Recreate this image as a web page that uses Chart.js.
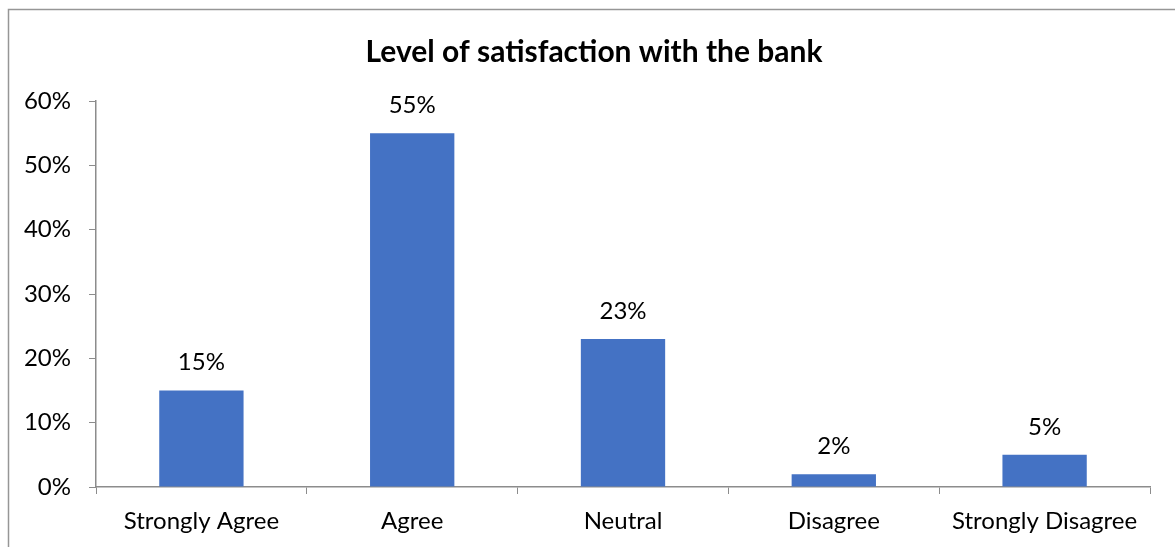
<!DOCTYPE html>
<html>
<head>
<meta charset="utf-8">
<script src="https://cdn.jsdelivr.net/npm/chart.js@4"></script>
<style>
  html, body { margin: 0; padding: 0; background: #fff; }
  #wrap { width: 1175px; height: 547px; }
</style>
</head>
<body>
<div id="wrap"><canvas id="chart" width="1175" height="547"></canvas></div>
<script>
const categories = ['Strongly Agree', 'Agree', 'Neutral', 'Disagree', 'Strongly Disagree'];
const shares = [15, 55, 23, 2, 5];
const yTicks = [0, 10, 20, 30, 40, 50, 60];
const chartTitle = 'Level of satisfaction with the bank';

const FONT = 'Lato, "Open Sans", sans-serif';
const AXIS_GRAY = '#8c8c8c';

// outer frame (only top and left edges show) plus the title, centred on the frame
const framePlugin = {
  id: 'frame',
  beforeDraw(chart) {
    const ctx = chart.ctx;
    ctx.save();
    ctx.strokeStyle = '#969696';
    ctx.lineWidth = 1.5;
    ctx.beginPath();
    ctx.moveTo(8.5, chart.height);
    ctx.lineTo(8.5, 9.5);
    ctx.lineTo(chart.width, 9.5);
    ctx.stroke();

    ctx.font = 'bold 30px ' + FONT;
    ctx.fillStyle = '#000';
    ctx.textAlign = 'center';
    ctx.textBaseline = 'middle';
    ctx.fillText(chartTitle, 594, 52);
    ctx.restore();
  },
};

// value labels above each bar
const valueLabels = {
  id: 'valueLabels',
  afterDatasetsDraw(chart) {
    const ctx = chart.ctx;
    const meta = chart.getDatasetMeta(0);
    ctx.save();
    ctx.font = '24px ' + FONT;
    ctx.fillStyle = '#000';
    ctx.textAlign = 'center';
    ctx.textBaseline = 'middle';
    meta.data.forEach((bar, i) => {
      ctx.fillText(shares[i] + '%', bar.x, bar.y - 28);
    });
    ctx.restore();
  },
};

const chart = new Chart(document.getElementById('chart'), {
  type: 'bar',
  data: {
    labels: categories,
    datasets: [{
      data: shares,
      backgroundColor: '#4472C4',
      borderWidth: 0,
      barPercentage: 0.4,
      categoryPercentage: 1,
    }],
  },
  options: {
    responsive: false,
    animation: false,
    events: [],
    layout: { padding: { left: 0, right: 25, top: 101, bottom: 0 } },
    scales: {
      x: {
        grid: {
          display: true,
          drawOnChartArea: false,
          drawTicks: true,
          tickLength: 7,
          offset: true,
          color: AXIS_GRAY,
        },
        border: { display: true, color: AXIS_GRAY, width: 1.5 },
        ticks: { color: '#000', font: { family: FONT, size: 24 }, padding: 13, maxRotation: 0 },
        afterFit(scale) { scale.height = 60; },
      },
      y: {
        min: 0,
        max: 60,
        afterBuildTicks(scale) { scale.ticks = yTicks.map(v => ({ value: v })); },
        grid: {
          display: true,
          drawOnChartArea: false,
          drawTicks: true,
          tickLength: 7,
          color: AXIS_GRAY,
        },
        border: { display: true, color: AXIS_GRAY, width: 1.5 },
        ticks: {
          color: '#000',
          font: { family: FONT, size: 24 },
          padding: 18,
          callback: v => v + '%',
        },
        afterFit(scale) { scale.width = 96; },
      },
    },
    plugins: {
      legend: { display: false },
      tooltip: { enabled: false },
      title: { display: false },
    },
  },
  plugins: [framePlugin, valueLabels],
});
</script>
</body>
</html>
